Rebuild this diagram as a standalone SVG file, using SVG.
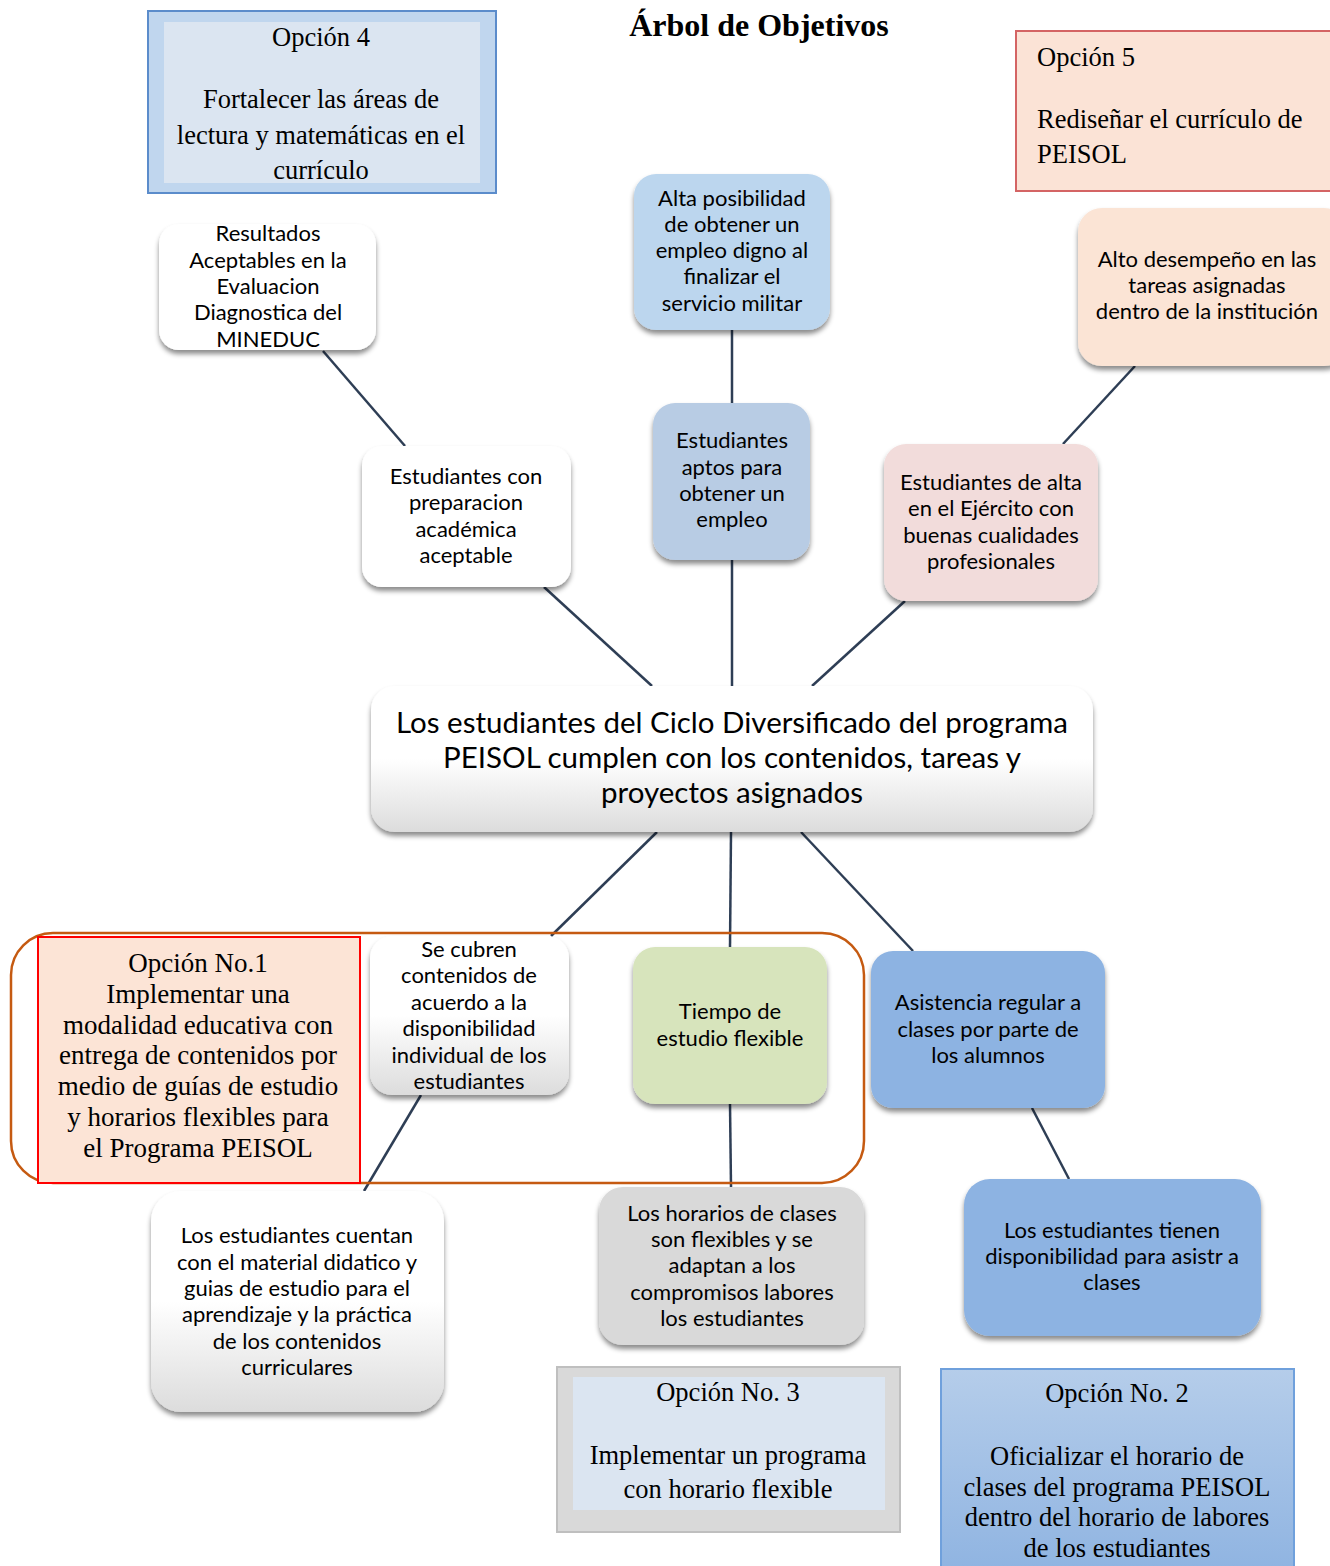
<svg xmlns="http://www.w3.org/2000/svg" width="1330" height="1566" viewBox="0 0 1330 1566">
<style>
.t{font-family:Lato,"Open Sans","Liberation Sans",sans-serif;font-size:22px;fill:#000;text-anchor:middle}
.c{font-size:29.5px}
.s{font-family:"Liberation Serif","Times New Roman",serif;font-size:26.5px;fill:#000;text-anchor:middle}
.o1{font-size:27px}
.l{text-anchor:start}
.ttl{font-family:"Liberation Serif","Times New Roman",serif;font-size:32px;font-weight:bold;text-anchor:middle}
.conn line{stroke:#2e3e55;stroke-width:2.5}
.n{filter:url(#sh)}
</style>
<defs>
<filter id="sh" x="-10%" y="-10%" width="120%" height="130%">
<feDropShadow dx="0" dy="4" stdDeviation="2.5" flood-color="#000" flood-opacity="0.45"/>
</filter>
<linearGradient id="gw" x1="0" y1="0" x2="0" y2="1">
<stop offset="0" stop-color="#ffffff"/><stop offset="0.5" stop-color="#ffffff"/><stop offset="1" stop-color="#dcdcdc"/>
</linearGradient>
<linearGradient id="gb" x1="0" y1="0" x2="0" y2="1">
<stop offset="0" stop-color="#b5cdea"/><stop offset="1" stop-color="#8eb3e1"/>
</linearGradient>
</defs>

<text class="ttl" x="759" y="36">Árbol de Objetivos</text>

<g class="conn">
<line x1="323" y1="351" x2="405" y2="446"/>
<line x1="544" y1="587" x2="652" y2="686"/>
<line x1="732" y1="330" x2="732" y2="403"/>
<line x1="732" y1="560" x2="732" y2="686"/>
<line x1="1135" y1="366" x2="1063" y2="444"/>
<line x1="905" y1="601" x2="812" y2="686"/>
<line x1="657" y1="832" x2="551" y2="936"/>
<line x1="731" y1="832" x2="730" y2="947"/>
<line x1="801" y1="832" x2="913" y2="951"/>
<line x1="421" y1="1095" x2="364" y2="1191"/>
<line x1="730" y1="1104" x2="731" y2="1187"/>
<line x1="1032" y1="1108" x2="1069" y2="1179"/>
</g>

<g id="opcion4">
<rect x="148" y="11" width="348" height="182" fill="#c0d6ee" stroke="#5b8ccb" stroke-width="2"/>
<rect x="164" y="22" width="316" height="161" fill="#dbe5f1"/>
<text class="s" x="321" y="46">Opción 4</text>
<text class="s" x="321" y="108">Fortalecer las áreas de</text>
<text class="s" x="321" y="144">lectura y matemáticas en el</text>
<text class="s" x="321" y="179">currículo</text>
</g>

<g id="opcion5">
<rect x="1016" y="31" width="330" height="160" fill="#fbe3d6" stroke="#d46464" stroke-width="2"/>
<text class="s l" x="1037" y="66">Opción 5</text>
<text class="s l" x="1037" y="128">Rediseñar el currículo de</text>
<text class="s l" x="1037" y="163">PEISOL</text>
</g>

<g id="resultados">
<rect class="n" x="159" y="224" width="217" height="126" rx="20" fill="#ffffff"/>
<text class="t" x="268" y="241">Resultados</text>
<text class="t" x="268" y="268">Aceptables en la</text>
<text class="t" x="268" y="294">Evaluacion</text>
<text class="t" x="268" y="320">Diagnostica del</text>
<text class="t" x="268" y="347">MINEDUC</text>
</g>

<g id="alta-posibilidad">
<rect class="n" x="634" y="174" width="196" height="156" rx="22" fill="#bcd6ee"/>
<text class="t" x="732" y="206">Alta posibilidad</text>
<text class="t" x="732" y="232">de obtener un</text>
<text class="t" x="732" y="258">empleo  digno al</text>
<text class="t" x="732" y="284">finalizar el</text>
<text class="t" x="732" y="311">servicio militar</text>
</g>

<g id="alto-desempeno">
<rect class="n" x="1078" y="208" width="270" height="158" rx="24" fill="#fbe4d5"/>
<text class="t" x="1207" y="267">Alto desempeño en las</text>
<text class="t" x="1207" y="293">tareas asignadas</text>
<text class="t" x="1207" y="319">dentro de la institución</text>
</g>

<g id="preparacion">
<rect class="n" x="362" y="446" width="209" height="141" rx="20" fill="#ffffff"/>
<text class="t" x="466" y="484">Estudiantes con</text>
<text class="t" x="466" y="510">preparacion</text>
<text class="t" x="466" y="537">académica</text>
<text class="t" x="466" y="563">aceptable</text>
</g>

<g id="aptos">
<rect class="n" x="653" y="403" width="157" height="157" rx="22" fill="#b8cce4"/>
<text class="t" x="732" y="448">Estudiantes</text>
<text class="t" x="732" y="475">aptos para</text>
<text class="t" x="732" y="501">obtener un</text>
<text class="t" x="732" y="527">empleo</text>
</g>

<g id="de-alta">
<rect class="n" x="884" y="444" width="214" height="157" rx="22" fill="#f2dcdb"/>
<text class="t" x="991" y="490">Estudiantes de alta</text>
<text class="t" x="991" y="516">en el Ejército con</text>
<text class="t" x="991" y="543">buenas cualidades</text>
<text class="t" x="991" y="569">profesionales</text>
</g>

<g id="central">
<rect class="n" x="371" y="686" width="722" height="146" rx="24" fill="url(#gw)"/>
<text class="t c" x="732" y="733">Los estudiantes del Ciclo Diversificado del programa</text>
<text class="t c" x="732" y="768">PEISOL cumplen con los contenidos, tareas y</text>
<text class="t c" x="732" y="803">proyectos asignados</text>
</g>

<g id="marco-opcion1">
<rect x="11" y="933" width="853" height="250" rx="42" fill="none" stroke="#c55a11" stroke-width="2.5"/>
</g>

<g id="opcion1">
<rect x="38" y="937" width="322" height="246" fill="#fce4d6" stroke="#ff0000" stroke-width="2"/>
<text class="s o1" x="198" y="972">Opción No.1</text>
<text class="s o1" x="198" y="1003">Implementar una</text>
<text class="s o1" x="198" y="1034">modalidad educativa con</text>
<text class="s o1" x="198" y="1064">entrega de contenidos por</text>
<text class="s o1" x="198" y="1095">medio de guías de estudio</text>
<text class="s o1" x="198" y="1126">y horarios flexibles para</text>
<text class="s o1" x="198" y="1157">el Programa PEISOL</text>
</g>

<g id="se-cubren">
<rect class="n" x="370" y="936" width="199" height="159" rx="22" fill="url(#gw)"/>
<text class="t" x="469" y="957">Se cubren</text>
<text class="t" x="469" y="983">contenidos de</text>
<text class="t" x="469" y="1010">acuerdo a la</text>
<text class="t" x="469" y="1036">disponibilidad</text>
<text class="t" x="469" y="1063">individual de los</text>
<text class="t" x="469" y="1089">estudiantes</text>
</g>

<g id="tiempo">
<rect class="n" x="633" y="947" width="194" height="157" rx="22" fill="#d7e4bc"/>
<text class="t" x="730" y="1019">Tiempo de</text>
<text class="t" x="730" y="1046">estudio flexible</text>
</g>

<g id="asistencia">
<rect class="n" x="871" y="951" width="234" height="157" rx="22" fill="#8db3e2"/>
<text class="t" x="988" y="1010">Asistencia regular a</text>
<text class="t" x="988" y="1037">clases por parte de</text>
<text class="t" x="988" y="1063">los alumnos</text>
</g>

<g id="material">
<rect class="n" x="151" y="1191" width="293" height="221" rx="30" fill="url(#gw)"/>
<text class="t" x="297" y="1243">Los estudiantes cuentan</text>
<text class="t" x="297" y="1270">con el material didatico y</text>
<text class="t" x="297" y="1296">guias de estudio  para el</text>
<text class="t" x="297" y="1322">aprendizaje y la práctica</text>
<text class="t" x="297" y="1349">de los contenidos</text>
<text class="t" x="297" y="1375">curriculares</text>
</g>

<g id="horarios">
<rect class="n" x="599" y="1187" width="265" height="158" rx="24" fill="#d9d9d9"/>
<text class="t" x="732" y="1221">Los horarios de clases</text>
<text class="t" x="732" y="1247">son flexibles y se</text>
<text class="t" x="732" y="1273">adaptan a los</text>
<text class="t" x="732" y="1300">compromisos labores</text>
<text class="t" x="732" y="1326">los estudiantes</text>
</g>

<g id="disponibilidad">
<rect class="n" x="964" y="1179" width="297" height="157" rx="26" fill="#8db3e2"/>
<text class="t" x="1112" y="1238">Los estudiantes tienen</text>
<text class="t" x="1112" y="1264">disponibilidad para asistr a</text>
<text class="t" x="1112" y="1290">clases</text>
</g>

<g id="opcion3">
<rect x="557" y="1367" width="343" height="165" fill="#d9d9d9" stroke="#bfbfbf" stroke-width="2"/>
<rect x="573" y="1377" width="312" height="133" fill="#dbe5f1"/>
<text class="s" x="728" y="1401">Opción No. 3</text>
<text class="s" x="728" y="1464">Implementar un programa</text>
<text class="s" x="728" y="1498">con horario flexible</text>
</g>

<g id="opcion2">
<rect x="941" y="1369" width="353" height="210" fill="url(#gb)" stroke="#6fa0dc" stroke-width="2"/>
<text class="s" x="1117" y="1402">Opción No. 2</text>
<text class="s" x="1117" y="1465">Oficializar el horario de</text>
<text class="s" x="1117" y="1496">clases del programa PEISOL</text>
<text class="s" x="1117" y="1526">dentro del horario de labores</text>
<text class="s" x="1117" y="1557">de los estudiantes</text>
</g>
</svg>
